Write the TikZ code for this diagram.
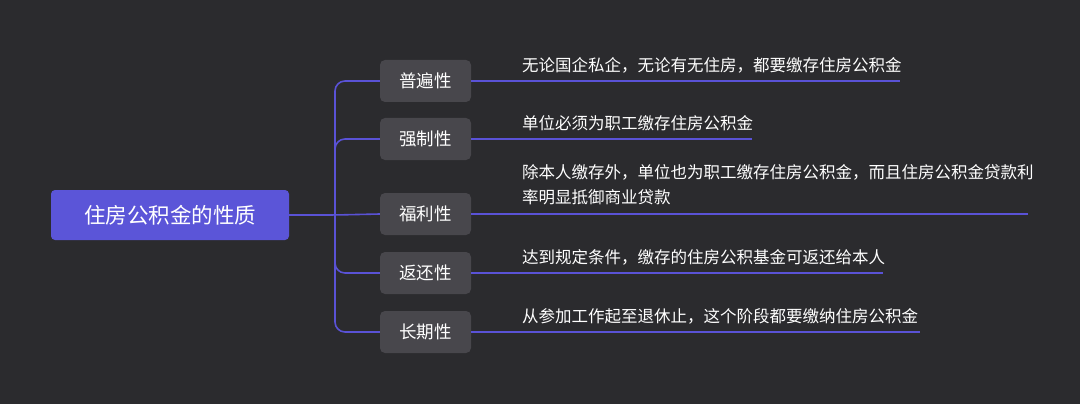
\documentclass[tikz,border=0pt]{standalone}
\usepackage{fontspec}
\newfontfamily\cjk{Noto Sans CJK SC}
\usetikzlibrary{positioning}
\definecolor{bgcol}{HTML}{2B2B2E}
\definecolor{rootcol}{HTML}{5B55D8}
\definecolor{boxcol}{HTML}{48474C}
\definecolor{linecol}{HTML}{5A52D6}
\tikzset{
  rootbox/.style={fill=rootcol,rounded corners=4pt,minimum width=238pt,minimum height=50pt,text=white,font=\cjk\fontsize{21.5}{21.5}\selectfont},
  topicbox/.style={fill=boxcol,rounded corners=5pt,minimum width=91pt,minimum height=42pt,text=white,font=\cjk\fontsize{17.5}{17.5}\selectfont},
  leaf/.style={anchor=south west,text=white,inner sep=0pt,align=left,font=\cjk\fontsize{16.5}{25}\selectfont},
  conn/.style={draw=linecol,line width=1.6pt,rounded corners=10pt}
}
\begin{document}
\begin{tikzpicture}[x=1pt,y=-1pt]
  \fill[bgcol] (0,0) rectangle (1080,404);
  \node[rootbox] (root) at (170,215) {住房公积金的性质};
  \coordinate (spine) at (335,215);
  % topics
  \node[topicbox] (t1) at (425.5,81) {普遍性};
  \node[topicbox] (t2) at (425.5,139) {强制性};
  \node[topicbox] (t3) at (425.5,214) {福利性};
  \node[topicbox] (t4) at (425.5,273) {返还性};
  \node[topicbox] (t5) at (425.5,332) {长期性};
  \draw[conn] (root.east) -- (spine) -- (t3.west);
  \foreach \t in {t1,t2,t4,t5}
    \draw[conn] (spine) |- (\t.west);
  % details
  \coordinate (e1) at (900,81);
  \coordinate (e2) at (752,139);
  \coordinate (e3) at (1028,214);
  \coordinate (e4) at (883,273);
  \coordinate (e5) at (920,332);
  \foreach \i in {1,...,5}
    \draw[conn] (t\i.east) -- (e\i);
  \node[leaf] (d1) at (522,73) {无论国企私企，无论有无住房，都要缴存住房公积金};
  \node[leaf] (d2) at (522,131) {单位必须为职工缴存住房公积金};
  \node[leaf] (d3) at (522,205) {除本人缴存外，单位也为职工缴存住房公积金，而且住房公积金贷款利\\率明显抵御商业贷款};
  \node[leaf] (d4) at (522,265) {达到规定条件，缴存的住房公积基金可返还给本人};
  \node[leaf] (d5) at (522,324) {从参加工作起至退休止，这个阶段都要缴纳住房公积金};
\end{tikzpicture}
\end{document}
